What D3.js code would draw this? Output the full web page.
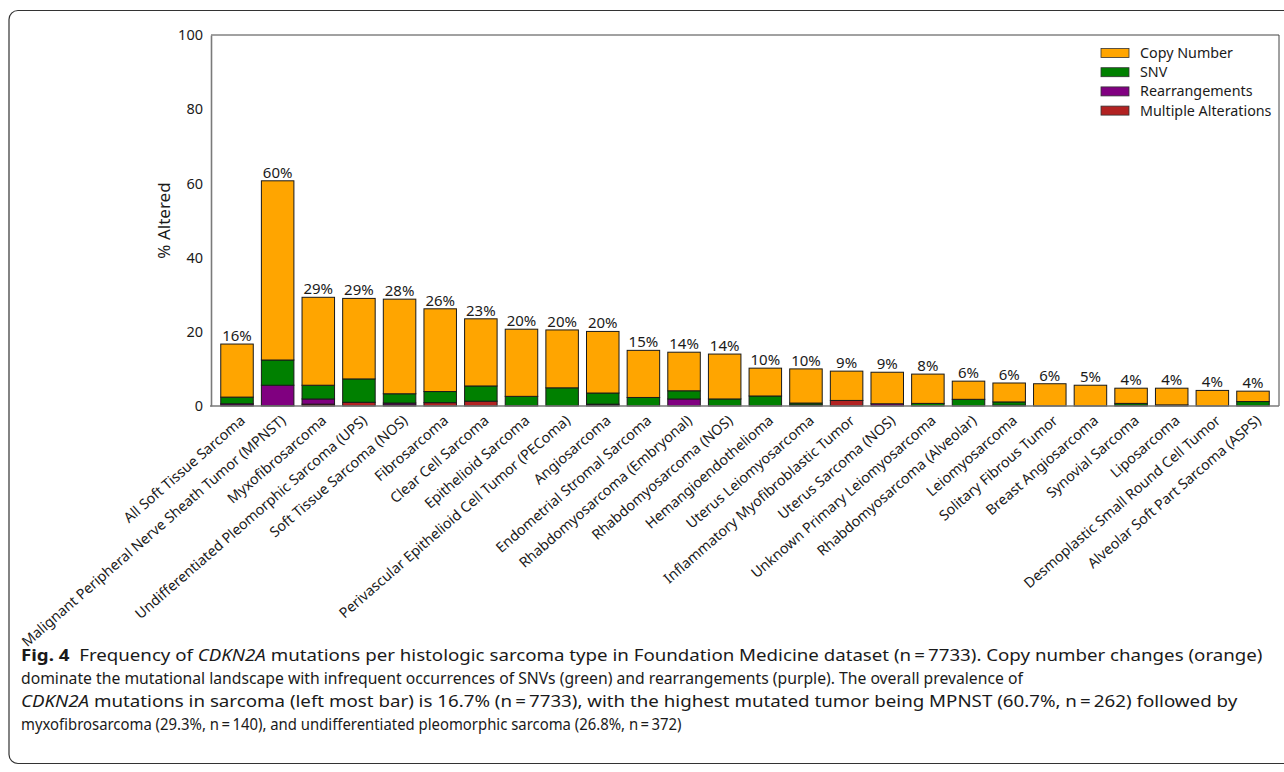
<!DOCTYPE html>
<html>
<head>
<meta charset="utf-8">
<script src="https://cdn.jsdelivr.net/npm/d3@7"></script>
<style>
  body { margin: 0; background: #fff; }
  svg text { font-family: "Noto Sans", "Open Sans", sans-serif; fill: #1a1a1a; }
</style>
</head>
<body>
<svg id="chart" width="1284" height="772"></svg>
<script>
// categories, left to right
var categories = [
  "All Soft Tissue Sarcoma",
  "Malignant Peripheral Nerve Sheath Tumor (MPNST)",
  "Myxofibrosarcoma",
  "Undifferentiated Pleomorphic Sarcoma (UPS)",
  "Soft Tissue Sarcoma (NOS)",
  "Fibrosarcoma",
  "Clear Cell Sarcoma",
  "Epithelioid Sarcoma",
  "Perivascular Epithelioid Cell Tumor (PEComa)",
  "Angiosarcoma",
  "Endometrial Stromal Sarcoma",
  "Rhabdomyosarcoma (Embryonal)",
  "Rhabdomyosarcoma (NOS)",
  "Hemangioendothelioma",
  "Uterus Leiomyosarcoma",
  "Inflammatory Myofibroblastic Tumor",
  "Uterus Sarcoma (NOS)",
  "Unknown Primary Leiomyosarcoma",
  "Rhabdomyosarcoma (Alveolar)",
  "Leiomyosarcoma",
  "Solitary Fibrous Tumor",
  "Breast Angiosarcoma",
  "Synovial Sarcoma",
  "Liposarcoma",
  "Desmoplastic Small Round Cell Tumor",
  "Alveolar Soft Part Sarcoma (ASPS)"
];

// % altered per alteration type
var multipleAlt    = [0.2, 0.1, 0.5, 1.0, 0.3, 0.9, 1.3, 0.1, 0,   0.2, 0,   0,   0,   0,   0.3, 1.5, 0,   0,   0,   0.2, 0,   0,   0.2, 0.3, 0,   0];
var rearrangements = [0.4, 5.5, 1.4, 0,   0.5, 0,   0,   0,   0,   0.3, 0,   1.9, 0,   0,   0,   0,   0.6, 0,   0,   0,   0,   0,   0,   0,   0,   0];
var snv            = [1.8, 6.8, 3.7, 6.3, 2.5, 3.0, 4.1, 2.5, 4.9, 3.0, 2.3, 2.2, 1.9, 2.7, 0.5, 0,   0,   0.7, 1.8, 0.9, 0,   0,   0.5, 0,   0,   1.2];
var copyNumber     = [14.3, 48.3, 23.7, 21.7, 25.5, 22.3, 18.1, 18.1, 15.6, 16.6, 12.7, 10.4, 12.1, 7.5, 9.2, 7.9, 8.5, 7.9, 4.9, 5.1, 6.0, 5.6, 4.1, 4.5, 4.2, 2.8];

// labels printed above the bars
var pctLabels = [16, 60, 29, 29, 28, 26, 23, 20, 20, 20, 15, 14, 14, 10, 10, 9, 9, 8, 6, 6, 6, 5, 4, 4, 4, 4];

var yTicks = [0, 20, 40, 60, 80, 100];

var seriesKeys   = ["multiple", "rearr", "snv", "cn"];
var seriesNames  = {cn: "Copy Number", snv: "SNV", rearr: "Rearrangements", multiple: "Multiple Alterations"};
var seriesColors = {cn: "#ffa500", snv: "#008000", rearr: "#800080", multiple: "#b22222"};
var legendOrder  = ["cn", "snv", "rearr", "multiple"];

var captionLines = [
  [{t: "Fig. 4", b: true}, {t: "  Frequency of "}, {t: "CDKN2A", i: true}, {t: " mutations per histologic sarcoma type in Foundation Medicine dataset (n\u2009=\u20097733). Copy number changes (orange)"}],
  [{t: "dominate the mutational landscape with infrequent occurrences of SNVs (green) and rearrangements (purple). The overall prevalence of"}],
  [{t: "CDKN2A", i: true}, {t: " mutations in sarcoma (left most bar) is 16.7% (n\u2009=\u20097733), with the highest mutated tumor being MPNST (60.7%, n\u2009=\u2009262) followed by"}],
  [{t: "myxofibrosarcoma (29.3%, n\u2009=\u2009140), and undifferentiated pleomorphic sarcoma (26.8%, n\u2009=\u2009372)"}]
];
var captionWidths = [1242, 1002, 1217, 661];

var rows = categories.map(function(c, i){
  return {name: c, multiple: multipleAlt[i], rearr: rearrangements[i], snv: snv[i], cn: copyNumber[i], label: pctLabels[i]};
});

var svg = d3.select("#chart");

// outer figure border
svg.append("rect")
  .attr("x", 9).attr("y", 10.5)
  .attr("width", 1290).attr("height", 753)
  .attr("rx", 9)
  .attr("fill", "none")
  .attr("stroke", "#333")
  .attr("stroke-width", 1.2);

var margin = {left: 211, right: 1279, top: 35, bottom: 406};

var x = d3.scaleBand()
  .domain(categories)
  .range([margin.left, margin.right])
  .paddingInner(0.2)
  .paddingOuter(0.24);

var y = d3.scaleLinear()
  .domain([0, 100])
  .range([margin.bottom, margin.top]);

var stacked = d3.stack().keys(seriesKeys)(rows);

// plot frame (top and right)
svg.append("path")
  .attr("d", "M" + margin.left + "," + margin.top + "H" + margin.right + "V" + margin.bottom)
  .attr("fill", "none")
  .attr("stroke", "#444")
  .attr("stroke-width", 1);

// bars
var layers = svg.append("g").selectAll("g")
  .data(stacked)
  .enter().append("g")
  .attr("fill", function(d){ return seriesColors[d.key]; });

layers.selectAll("rect")
  .data(function(d){ return d.filter(function(s){ return s[1] - s[0] > 0; }); })
  .enter().append("rect")
  .attr("x", function(d){ return x(d.data.name); })
  .attr("width", x.bandwidth())
  .attr("y", function(d){ return y(d[1]); })
  .attr("height", function(d){ return y(d[0]) - y(d[1]); })
  .attr("stroke", "#1a1a1a")
  .attr("stroke-width", 1);

// percent labels
svg.append("g").selectAll("text")
  .data(rows)
  .enter().append("text")
  .attr("x", function(d){ return x(d.name) + x.bandwidth() / 2; })
  .attr("y", function(d){ return y(d.multiple + d.rearr + d.snv + d.cn) - 3; })
  .attr("text-anchor", "middle")
  .style("font-size", "15px")
  .text(function(d){ return d.label + "%"; });

// y axis
var yAxis = svg.append("g")
  .attr("transform", "translate(" + margin.left + ",0)")
  .call(d3.axisLeft(y).tickValues(yTicks).tickSize(0).tickPadding(8));
yAxis.select(".domain").attr("stroke", "#7a7a7a").attr("stroke-width", 1.6);
yAxis.selectAll("text").style("font-size", "14.5px").attr("fill", "#1a1a1a");

svg.append("text")
  .attr("transform", "translate(170," + ((margin.top + margin.bottom) / 2) + ") rotate(-90)")
  .attr("text-anchor", "middle")
  .style("font-size", "17px")
  .text("% Altered");

// x axis
var xAxis = svg.append("g")
  .attr("transform", "translate(0," + margin.bottom + ")")
  .call(d3.axisBottom(x).tickSize(0).tickPadding(0).tickSizeOuter(0));
xAxis.select(".domain").attr("stroke", "#7a7a7a").attr("stroke-width", 1.6)
  .attr("d", "M" + (margin.left - 1) + ",0H" + margin.right);
xAxis.selectAll("text")
  .attr("text-anchor", "end")
  .attr("dy", 0)
  .attr("y", 0)
  .attr("transform", "translate(9,16) rotate(-41)")
  .style("font-size", "14.3px")
  .attr("fill", "#1a1a1a");

// legend
var legend = svg.append("g").attr("transform", "translate(1101,53)");
legendOrder.forEach(function(k, i){
  var g = legend.append("g").attr("transform", "translate(0," + (i * 19.2) + ")");
  g.append("rect")
    .attr("x", 0).attr("y", -4.5)
    .attr("width", 28).attr("height", 9)
    .attr("fill", seriesColors[k])
    .attr("stroke", "#333").attr("stroke-width", 0.8);
  g.append("text")
    .attr("x", 39).attr("y", 5)
    .style("font-size", "14.3px")
    .text(seriesNames[k]);
});

// caption, squeezed horizontally to the reference line widths
var cap = svg.append("g");
captionLines.forEach(function(line, i){
  var t = cap.append("text")
    .attr("x", 0)
    .attr("y", 0)
    .style("font-size", "16.5px")
    .attr("xml:space", "preserve");
  line.forEach(function(seg){
    t.append("tspan")
      .style("font-weight", seg.b ? "bold" : null)
      .style("font-style", seg.i ? "italic" : null)
      .text(seg.t);
  });
  var w = t.node().getComputedTextLength();
  t.attr("transform", "translate(21," + (661 + i * 23) + ") scale(" + (captionWidths[i] / w) + ",1)");
});
</script>
</body>
</html>
